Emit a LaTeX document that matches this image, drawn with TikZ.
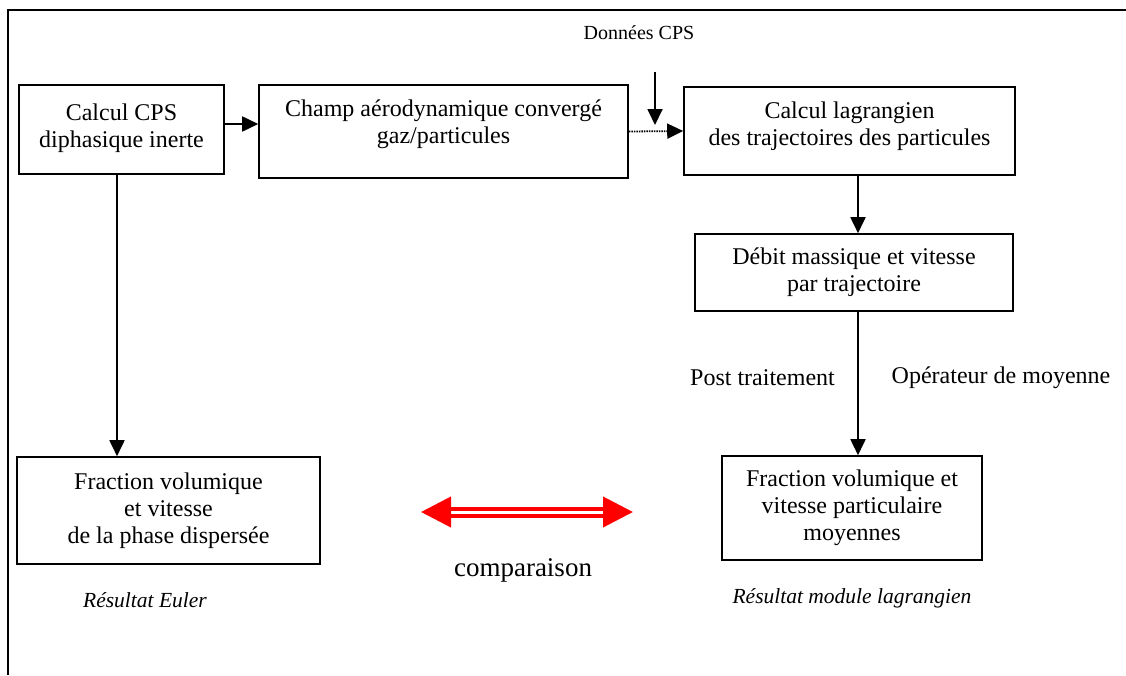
\documentclass[tikz,border=0pt]{standalone}
\usepackage{fontspec}
\setmainfont{Liberation Serif}
\usepackage{tikz}
\usetikzlibrary{positioning,arrows.meta}
\tikzset{bloc/.style={draw, line width=1.6pt, align=center, inner sep=0pt,
    font=\fontsize{24}{27}\selectfont},
  fleche/.style={line width=1.8pt, -{Triangle[length=16pt,width=15pt]}},
  texte/.style={font=\fontsize{24}{27}\selectfont},
  legende/.style={font=\fontsize{21.5}{24}\selectfont\itshape}}

\begin{document}
\begin{tikzpicture}[x=1pt,y=-1pt]
  \useasboundingbox (0,0) rectangle (1126,675);
  \draw[line width=2.5pt] (8,675) -- (8,10) -- (1126,10);

  % boites du haut
  \node[bloc, minimum width=205pt, minimum height=89pt] (CPS) at (121.5,129.5) {Calcul CPS\\diphasique inerte\\[-19pt]~};
  \node[bloc, minimum width=369pt, minimum height=93pt] (champ) at (443.5,131.5) {Champ aérodynamique convergé\\gaz/particules\\[-8pt]~};
  \node[bloc, minimum width=331pt, minimum height=88pt] (lagr) at (849.5,131) {Calcul lagrangien\\des trajectoires des particules\\[-12pt]~};
  \node[bloc, minimum width=318pt, minimum height=77pt] (debit) at (854,272.5) {Débit massique et vitesse\\par trajectoire};

  % boites du bas
  \node[bloc, minimum width=303pt, minimum height=107pt] (euler) at (168.5,510.5) {Fraction volumique\\et vitesse\\de la phase dispersée};
  \node[bloc, minimum width=260pt, minimum height=104pt] (moy) at (852,508) {Fraction volumique et\\vitesse particulaire\\moyennes};

  % textes
  \node[font=\fontsize{20}{22}\selectfont] (donnees) at (639,33) {Données CPS};
  \node[texte] (post) at (762.5,378) {Post traitement};
  \node[texte] (oper) at (1001,378) {Opérateur de moyenne};
  \node[font=\fontsize{27}{30}\selectfont] (comp) at (523,570) {comparaison};
  \node[legende] (resE) at (145,600) {Résultat Euler};
  \node[legende] (resL) at (852,598) {Résultat module lagrangien};

  % fleches
  \draw[fleche] ([yshift=5.5pt]CPS.east) coordinate (a1) -- (a1 -| champ.west);
  \draw[fleche, dash pattern=on 1.5pt off 1pt] (champ.east) -- (lagr.west);
  \coordinate (cps1) at (655,72);
  \coordinate (cps2) at (655,125);
  \draw[fleche] (cps1) -- (cps2);
  \draw[fleche] (CPS.south -| 117,0) -- (euler.north -| 117,0);
  \draw[fleche] (lagr.south -| 858,0) -- (debit.north -| 858,0);
  \draw[fleche] (debit.south -| 858,0) -- (moy.north -| 858,0);

  \coordinate (cg) at (421,512);
  \coordinate (cd) at (633,512);
  \draw[red, line width=4pt, double=white, double distance=3pt,
    {Triangle[length=30pt,width=30pt]}-{Triangle[length=30pt,width=30pt]}] (cg) -- (cd);
\end{tikzpicture}
\end{document}
